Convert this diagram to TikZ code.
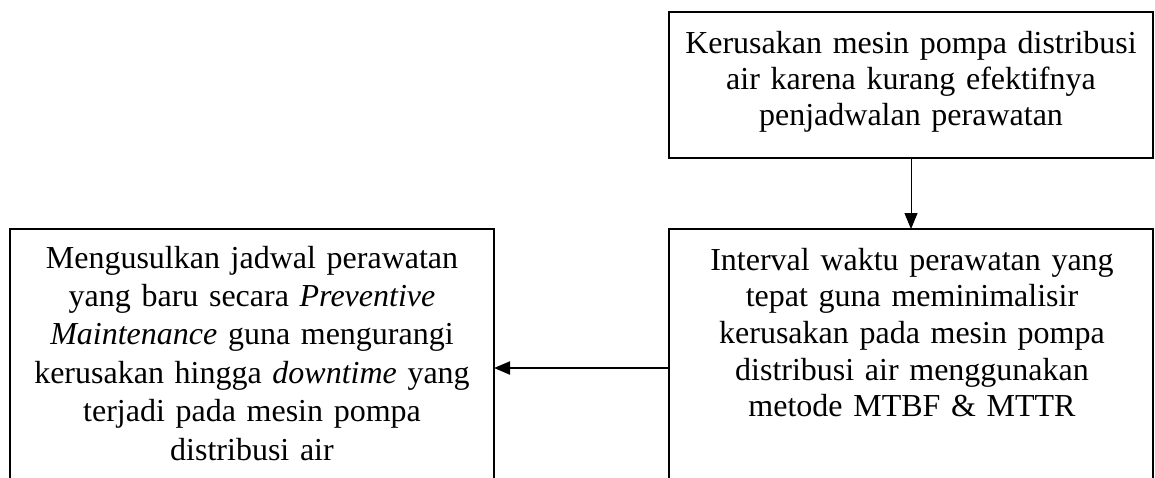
\documentclass[tikz,border=0pt]{standalone}
\usepackage{fontspec}
\setmainfont{Liberation Serif}
\usetikzlibrary{arrows.meta}
\begin{document}
\begin{tikzpicture}[x=1pt,y=-1pt,
  box/.style={draw, line width=1.6pt, inner sep=0pt, outer sep=0pt, minimum width=484pt, anchor=north west},
  txt/.style={align=center, text width=470pt, inner sep=0pt, outer sep=0pt, anchor=base},
  arr/.style={-{Triangle[length=16pt,width=13pt]}}]
\useasboundingbox (0,0) rectangle (1155,477);
\clip (0,0) rectangle (1155,477);
\node[box, minimum height=146pt] (tbox) at (669,12) {};
\node[box, minimum height=278pt] (rbox) at (669,229) {};
\node[box, minimum height=278pt] (lbox) at (10,229) {};
\node[txt, font=\fontsize{32}{36}\selectfont] (ttext) at (911,53)
  {Kerusakan mesin pompa distribusi\\air karena kurang efektifnya\\penjadwalan perawatan};
\node[txt, font=\fontsize{32}{36.7}\selectfont] (rtext) at (912,270)
  {Interval waktu perawatan yang\\tepat guna meminimalisir\\kerusakan pada mesin pompa\\distribusi air menggunakan\\metode MTBF \& MTTR};
\node[txt, font=\fontsize{32}{38.4}\selectfont] (ltext) at (252,268)
  {Mengusulkan jadwal perawatan\\yang baru secara \textit{Preventive}\\\textit{Maintenance} guna mengurangi\\kerusakan hingga \textit{downtime} yang\\terjadi pada mesin pompa\\distribusi air};
\draw[arr, line width=1pt] (tbox.south) -- (rbox.north);
\draw[arr, line width=2pt] (rbox.west) -- (lbox.east);
\end{tikzpicture}
\end{document}
